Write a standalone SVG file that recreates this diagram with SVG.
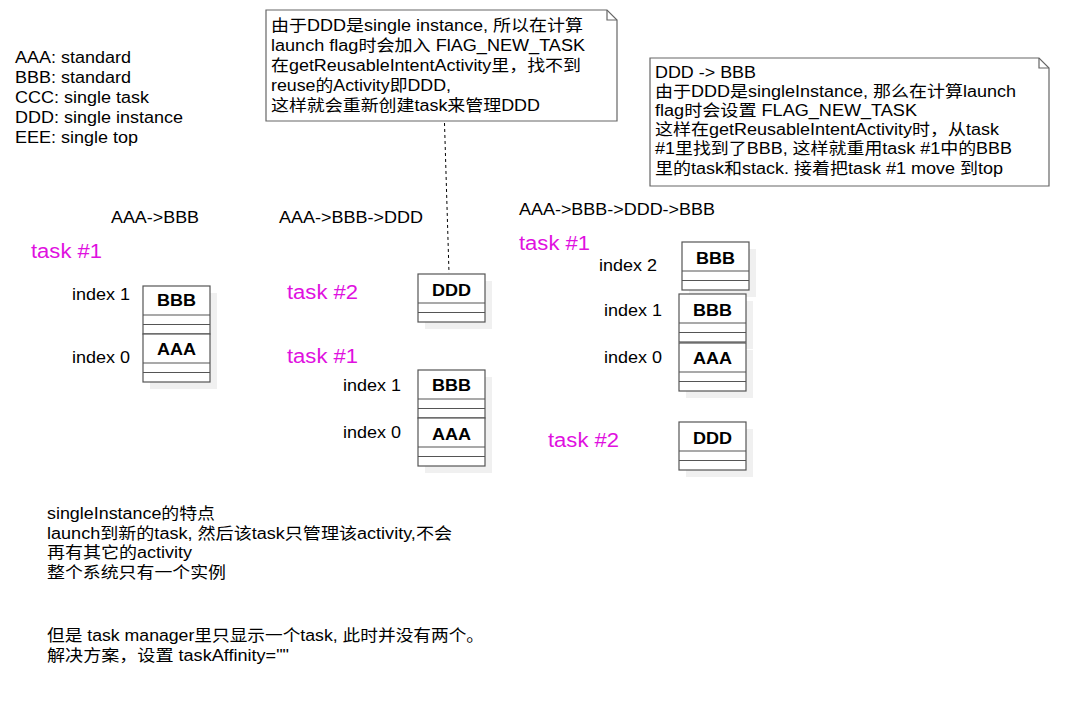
<svg xmlns="http://www.w3.org/2000/svg" width="1090" height="707" viewBox="0 0 1090 707">
<style>
text{font-family:"Liberation Sans","Noto Sans CJK SC",sans-serif;font-size:16px;fill:#000}
.task{font-size:20px;fill:#e010e0}
.cls{font-weight:bold;text-anchor:middle}
.box{fill:#fff;stroke:#555;stroke-width:1.2}
.sh{fill:#f0f0f0}
.ln{stroke:#555;stroke-width:1.2}
.note{fill:#fff;stroke:#666;stroke-width:1.2}
</style>
<defs>
<g id="cbox">
<rect class="sh" x="7" y="7" width="67" height="48"/>
<rect class="box" x="0" y="0" width="67" height="48"/>
<line class="ln" x1="0" y1="29" x2="67" y2="29"/>
<line class="ln" x1="0" y1="38.5" x2="67" y2="38.5"/>
</g>
</defs>
<rect width="1090" height="707" fill="#fff"/>

<g id="legend">
<text x="15" y="63" textLength="116" lengthAdjust="spacingAndGlyphs">AAA: standard</text>
<text x="15" y="83" textLength="116" lengthAdjust="spacingAndGlyphs">BBB: standard</text>
<text x="15" y="103" textLength="134" lengthAdjust="spacingAndGlyphs">CCC: single task</text>
<text x="15" y="123" textLength="168" lengthAdjust="spacingAndGlyphs">DDD: single instance</text>
<text x="15" y="143" textLength="123" lengthAdjust="spacingAndGlyphs">EEE: single top</text>
</g>

<g id="connectors">
<line x1="444.5" y1="123" x2="449" y2="273" stroke="#000" stroke-width="1" stroke-dasharray="3 3"/>
</g>

<g id="note1">
<path class="note" d="M266 10 H607 L617 20 V121 H266 Z"/>
<path d="M607 10 V20 H617" fill="none" stroke="#666" stroke-width="1.2"/>
<text x="271" y="31" textLength="312" lengthAdjust="spacingAndGlyphs">由于DDD是single instance, 所以在计算</text>
<text x="271" y="51" textLength="314" lengthAdjust="spacingAndGlyphs">launch flag时会加入 FlAG_NEW_TASK</text>
<text x="271" y="71" textLength="310" lengthAdjust="spacingAndGlyphs">在getReusableIntentActivity里，找不到</text>
<text x="271" y="91" textLength="180" lengthAdjust="spacingAndGlyphs">reuse的Activity即DDD,</text>
<text x="271" y="111" textLength="269" lengthAdjust="spacingAndGlyphs">这样就会重新创建task来管理DDD</text>
</g>

<g id="note2">
<path class="note" d="M650 58 H1039 L1049 68 V186 H650 Z"/>
<path d="M1039 58 V68 H1049" fill="none" stroke="#666" stroke-width="1.2"/>
<text x="655" y="78" textLength="101" lengthAdjust="spacingAndGlyphs">DDD -&gt; BBB</text>
<text x="655" y="97" textLength="361" lengthAdjust="spacingAndGlyphs">由于DDD是singleInstance, 那么在计算launch</text>
<text x="655" y="116" textLength="262" lengthAdjust="spacingAndGlyphs">flag时会设置 FLAG_NEW_TASK</text>
<text x="655" y="135" textLength="344" lengthAdjust="spacingAndGlyphs">这样在getReusableIntentActivity时，从task</text>
<text x="655" y="154" textLength="357" lengthAdjust="spacingAndGlyphs">#1里找到了BBB, 这样就重用task #1中的BBB</text>
<text x="655" y="174" textLength="348" lengthAdjust="spacingAndGlyphs">里的task和stack. 接着把task #1 move 到top</text>
</g>

<g id="titles">
<text x="111" y="223" textLength="88" lengthAdjust="spacingAndGlyphs">AAA-&gt;BBB</text>
<text x="279" y="223" textLength="144" lengthAdjust="spacingAndGlyphs">AAA-&gt;BBB-&gt;DDD</text>
<text x="519" y="215" textLength="196" lengthAdjust="spacingAndGlyphs">AAA-&gt;BBB-&gt;DDD-&gt;BBB</text>
</g>

<g id="tasklabels">
<text class="task" x="31" y="258" textLength="71" lengthAdjust="spacingAndGlyphs">task #1</text>
<text class="task" x="287" y="299" textLength="71" lengthAdjust="spacingAndGlyphs">task #2</text>
<text class="task" x="287" y="363" textLength="71" lengthAdjust="spacingAndGlyphs">task #1</text>
<text class="task" x="519" y="250" textLength="71" lengthAdjust="spacingAndGlyphs">task #1</text>
<text class="task" x="548" y="447" textLength="71" lengthAdjust="spacingAndGlyphs">task #2</text>
</g>

<g id="indexlabels">
<text x="72" y="300" textLength="58" lengthAdjust="spacingAndGlyphs">index 1</text>
<text x="72" y="363" textLength="58" lengthAdjust="spacingAndGlyphs">index 0</text>
<text x="343" y="391" textLength="58" lengthAdjust="spacingAndGlyphs">index 1</text>
<text x="343" y="438" textLength="58" lengthAdjust="spacingAndGlyphs">index 0</text>
<text x="599" y="271" textLength="58" lengthAdjust="spacingAndGlyphs">index 2</text>
<text x="604" y="316" textLength="58" lengthAdjust="spacingAndGlyphs">index 1</text>
<text x="604" y="363" textLength="58" lengthAdjust="spacingAndGlyphs">index 0</text>
</g>

<g id="s1-bbb"><use href="#cbox" x="143" y="286"/><text class="cls" x="176.5" y="306" textLength="39" lengthAdjust="spacingAndGlyphs">BBB</text></g>
<g id="s1-aaa"><use href="#cbox" x="143" y="334"/><text class="cls" x="176.5" y="355" textLength="39" lengthAdjust="spacingAndGlyphs">AAA</text></g>

<g id="s2-ddd"><use href="#cbox" x="418" y="274"/><text class="cls" x="451.5" y="296" textLength="39" lengthAdjust="spacingAndGlyphs">DDD</text></g>
<g id="s2-bbb"><use href="#cbox" x="418" y="370"/><text class="cls" x="451.5" y="391" textLength="39" lengthAdjust="spacingAndGlyphs">BBB</text></g>
<g id="s2-aaa"><use href="#cbox" x="418" y="418"/><text class="cls" x="451.5" y="440" textLength="39" lengthAdjust="spacingAndGlyphs">AAA</text></g>

<g id="s3-bbb2"><use href="#cbox" x="682" y="242"/><text class="cls" x="715.5" y="264" textLength="39" lengthAdjust="spacingAndGlyphs">BBB</text></g>
<g id="s3-bbb"><use href="#cbox" x="679" y="294"/><text class="cls" x="712.5" y="316" textLength="39" lengthAdjust="spacingAndGlyphs">BBB</text></g>
<g id="s3-aaa"><use href="#cbox" x="679" y="343"/><text class="cls" x="712.5" y="364" textLength="39" lengthAdjust="spacingAndGlyphs">AAA</text></g>
<g id="s3-ddd"><use href="#cbox" x="679" y="422"/><text class="cls" x="712.5" y="444" textLength="39" lengthAdjust="spacingAndGlyphs">DDD</text></g>

<g id="notes-bottom">
<text x="47" y="519" textLength="168" lengthAdjust="spacingAndGlyphs">singleInstance的特点</text>
<text x="47" y="539" textLength="405" lengthAdjust="spacingAndGlyphs">launch到新的task, 然后该task只管理该activity,不会</text>
<text x="47" y="558" textLength="145" lengthAdjust="spacingAndGlyphs">再有其它的activity</text>
<text x="47" y="578" textLength="179" lengthAdjust="spacingAndGlyphs">整个系统只有一个实例</text>
<text x="47" y="641" textLength="437" lengthAdjust="spacingAndGlyphs">但是 task manager里只显示一个task, 此时并没有两个。</text>
<text x="47" y="661" textLength="242" lengthAdjust="spacingAndGlyphs">解决方案，设置 taskAffinity=""</text>
</g>
</svg>
